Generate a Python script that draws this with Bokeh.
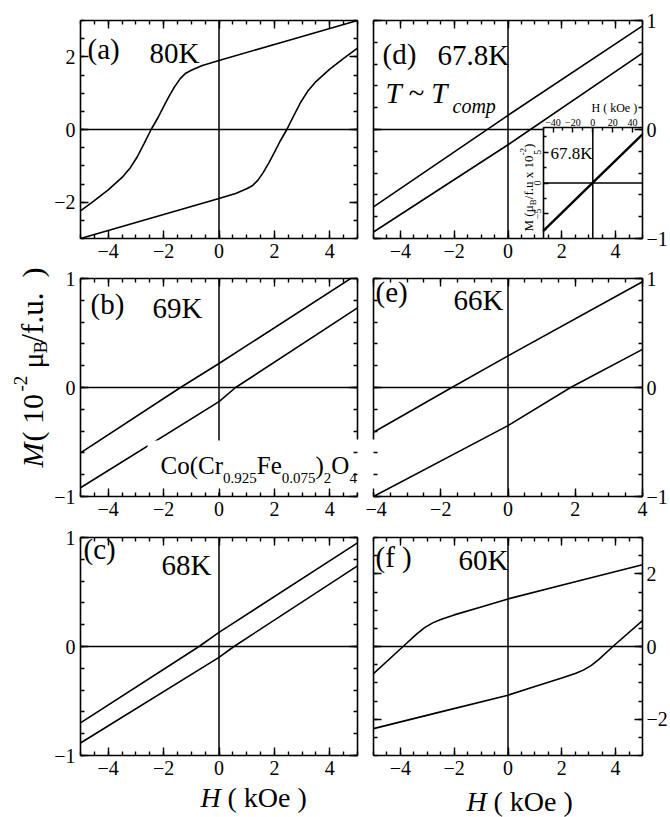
from math import pi, cos, sin

from bokeh.plotting import figure
from bokeh.models import Range1d, LinearAxis, FixedTicker, Span, Label
from bokeh.layouts import row, column
from bokeh.embed import file_html
from bokeh.resources import INLINE

SERIF = "Liberation Serif"
INK = "black"

# ---------- magnetisation loops: H in kOe, M in 1e-2 muB/f.u. ----------
# *_dn : branch swept from +H to -H,   *_up : branch swept from -H to +H

# (a) 80 K
h80_dn = [-5.0, -4.5, -4.0, -3.5, -3.2, -2.95, -2.7, -2.45, -2.2, -2.0, -1.8,
          -1.6, -1.4, -1.2, -1.0, -0.6, 0.0, 2.5, 5.0]
m80_dn = [-2.24, -1.96, -1.66, -1.32, -1.05, -0.75, -0.38, 0.0, 0.33, 0.63, 0.92,
          1.18, 1.40, 1.55, 1.63, 1.76, 1.90, 2.45, 3.0]
h80_up = [-5.0, -2.5, 0.0, 0.6, 1.0, 1.2, 1.4, 1.6, 1.8, 2.0, 2.2, 2.45, 2.7,
          2.95, 3.2, 3.5, 4.0, 4.5, 5.0]
m80_up = [-3.0, -2.45, -1.90, -1.76, -1.63, -1.55, -1.40, -1.18, -0.92, -0.63,
          -0.33, 0.0, 0.38, 0.75, 1.05, 1.32, 1.66, 1.96, 2.24]

# (b) 69 K
h69_dn = [-5.0, -1.39, 0.0, 5.0]
m69_dn = [-0.60, 0.0, 0.22, 1.04]
h69_up = [-5.0, 0.0, 0.6, 5.0]
m69_up = [-0.92, -0.13, 0.0, 0.73]

# (c) 68 K
h68_dn = [-5.0, -0.72, 0.0, 5.0]
m68_dn = [-0.70, 0.0, 0.13, 0.95]
h68_up = [-5.0, 0.0, 0.54, 5.0]
m68_up = [-0.885, -0.10, 0.0, 0.74]

# (d) 67.8 K
h678_dn = [-5.0, 0.0, 5.0]
m678_dn = [-0.71, 0.13, 0.95]
h678_up = [-5.0, 0.0, 5.0]
m678_up = [-0.94, -0.14, 0.70]
# (d) inset, wide sweep
h678_wide = [-50.0, 0.0, 50.0]
m678_wide = [-7.8, 0.05, 7.9]

# (e) 66 K
h66_dn = [-4.0, -1.67, 0.0, 4.0]
m66_dn = [-0.41, 0.0, 0.29, 0.97]
h66_up = [-4.0, 0.0, 1.86, 4.0]
m66_up = [-1.0, -0.35, 0.0, 0.35]

# (f) 60 K
h60_dn = [-5.0, -3.9, -3.4, -3.1, -2.8, -2.5, -2.0, -1.0, 0.0, 2.5, 5.0]
m60_dn = [-0.75, 0.0, 0.34, 0.52, 0.65, 0.74, 0.87, 1.09, 1.31, 1.78, 2.25]
h60_up = [-5.0, -2.5, 0.0, 1.0, 2.0, 2.5, 2.8, 3.1, 3.4, 3.9, 5.0]
m60_up = [-2.26, -1.80, -1.34, -1.10, -0.87, -0.74, -0.65, -0.52, -0.34, 0.0, 0.71]


# ---------- ticks ----------
def steps(lo, hi, d):
    n = int(round((hi - lo) / d))
    return [round(lo + i * d, 6) for i in range(n + 1)]


TICK_H = [-4, -2, 0, 2, 4]
MINOR_H5 = steps(-5, 5, 0.5)
MINOR_H4 = steps(-4, 4, 0.5)
TICK_M3 = [-2, 0, 2]
MINOR_M3 = steps(-3, 3, 0.5)
TICK_M1 = [-1, 0, 1]
MINOR_M1 = steps(-1, 1, 0.2)
TICK_IH = [-40, -20, 0, 20, 40]
MINOR_IH = [-50, -30, -10, 10, 30, 50]
TICK_IM = [-5, 0, 5]
MINOR_IM = [-7.5, -2.5, 2.5, 7.5]

# ---------- page geometry (px) ----------
PAGE_H = 817
TITLE_W = 50
COL_LEFT = [50, 365]
COL_W = [315, 305]
FRAME_LEFT = [80, 373]
FRAME_W = [277, 276]
ROW_TOP = [0, 267, 526]
ROW_H = [267, 259, 256]
FRAME_TOP = [20, 278, 537]
FRAME_H = 218
CAP_TOP = ROW_TOP[2] + ROW_H[2]          # strip under the bottom row
CAP_H = PAGE_H - CAP_TOP

# label anchors sit this many em above the drawn baseline
BASE_FIX = 0.36

# advance widths (em) of the serif face, used to chain text pieces
ADV = {"C": .667, "o": .5, "(": .333, ")": .333, "r": .333, "F": .556, "e": .444,
       "O": .722, ".": .25, " ": .25, "M": .889, "μ": .55, "/": .278, "f": .333,
       "u": .5, "k": .5, "H": .722, "B": .667, "-": .333, "T": .611, "~": .541,
       "c": .444, "m": .778, "p": .5, "K": .722, "x": .5}
ADV_I = {"M": .833, "T": .556, "m": .722}


def text_width(s, size, italic=False):
    tot = 0.0
    for ch in s:
        if italic and ch in ADV_I:
            tot += ADV_I[ch]
        else:
            tot += ADV.get(ch, 0.5)
    return tot * size


def put(p, org, x, y, s, size, italic=False, angle=0.0, align="left"):
    """Place text with its baseline at page position (x, y) inside plot p."""
    fl, fb = org
    x -= BASE_FIX * size * sin(angle)
    y -= BASE_FIX * size * cos(angle)
    p.add_layout(Label(x=x - fl, y=fb - y, x_units="screen", y_units="screen",
                       text=s, text_font=SERIF, text_font_size=f"{size}px",
                       text_font_style="italic" if italic else "normal",
                       text_color=INK, text_align=align,
                       text_baseline="alphabetic", angle=angle))


def run(p, org, x, y, pieces, angle=0.0):
    """Chain pieces (text, size, baseline shift, italic) along one line."""
    ca, sa = cos(angle), sin(angle)
    for s, size, shift, italic in pieces:
        put(p, org, x + shift * sa, y + shift * ca, s, size, italic, angle)
        adv = text_width(s, size, italic)
        x += adv * ca
        y -= adv * sa


def styled(ax, labelled, size=20, standoff=5, major=8, minor=4):
    ax.axis_line_color = INK
    ax.axis_line_width = 1.6
    ax.major_tick_line_color = INK
    ax.major_tick_line_width = 1.4
    ax.minor_tick_line_color = INK
    ax.minor_tick_line_width = 1.4
    ax.major_tick_in = major
    ax.major_tick_out = 0
    ax.minor_tick_in = minor
    ax.minor_tick_out = 0
    if labelled:
        ax.major_label_text_font = SERIF
        ax.major_label_text_font_size = f"{size}px"
        ax.major_label_text_color = INK
        ax.major_label_standoff = standoff
    else:
        ax.major_label_text_font_size = "1px"
        ax.major_label_text_color = None
        ax.major_label_standoff = 0
    return ax


def bare(width, height):
    """Plot with no axes whose frame fills the whole canvas (for free text)."""
    return figure(width=width, height=height, x_range=Range1d(0, 1), y_range=Range1d(0, 1),
                  x_axis_type=None, y_axis_type=None, toolbar_location=None,
                  output_backend="svg", min_border=0, outline_line_color=None)


def panel(r, c, xr, yr, xt, xm, yt, ym):
    lb = FRAME_LEFT[c] - COL_LEFT[c]
    rb = COL_W[c] - lb - FRAME_W[c]
    tb = FRAME_TOP[r] - ROW_TOP[r]
    bb = ROW_H[r] - tb - FRAME_H
    p = figure(width=COL_W[c], height=ROW_H[r],
               x_range=Range1d(*xr), y_range=Range1d(*yr),
               x_axis_type=None, y_axis_type=None,
               toolbar_location=None, output_backend="svg",
               min_border_left=lb, min_border_right=rb,
               min_border_top=tb, min_border_bottom=bb,
               outline_line_color=None,
               background_fill_color="white", border_fill_color="white")
    p.add_layout(styled(LinearAxis(ticker=FixedTicker(ticks=xt, minor_ticks=xm)), True), "below")
    p.add_layout(styled(LinearAxis(ticker=FixedTicker(ticks=xt, minor_ticks=xm)), False), "above")
    left = styled(LinearAxis(ticker=FixedTicker(ticks=yt, minor_ticks=ym)), c == 0)
    right = styled(LinearAxis(ticker=FixedTicker(ticks=yt, minor_ticks=ym)), c == 1, standoff=4)
    p.add_layout(left, "left")
    p.add_layout(right, "right")
    for dim in ("width", "height"):
        p.add_layout(Span(location=0, dimension=dim, line_color=INK,
                          line_width=1.5, level="underlay"))
    org = (FRAME_LEFT[c], FRAME_TOP[r] + FRAME_H)
    return p, org, left, right


def loop(p, h, m):
    p.line(h, m, line_color=INK, line_width=1.6)


def edge_piece(p, side, loc, lo, hi):
    """Short stretch of frame edge, used where a label plate interrupts an axis."""
    ax = styled(LinearAxis(ticker=FixedTicker(ticks=[], minor_ticks=[]),
                           fixed_location=loc, bounds=(lo, hi)), False, major=0, minor=0)
    p.add_layout(ax, side)


# ---------- (a) 80 K ----------
pa, oa, _, _ = panel(0, 0, (-5, 5), (-3, 3), TICK_H, MINOR_H5, TICK_M3, MINOR_M3)
loop(pa, h80_dn, m80_dn)
loop(pa, h80_up, m80_up)
put(pa, oa, 87, 59, "(a)", 29)
put(pa, oa, 149, 63, "80K", 29)

# ---------- (b) 69 K ----------
pb, ob, _, b_right = panel(1, 0, (-5, 5), (-1, 1), TICK_H, MINOR_H5, TICK_M1, MINOR_M1)
loop(pb, h69_dn, m69_dn)
loop(pb, h69_up, m69_up)
# white plate behind the compound formula
pb.quad(left=[-2.58], right=[5.6], bottom=[-0.963], top=[-0.486],
        fill_color="white", line_color=None)
b_right.bounds = (-0.48, 1)
edge_piece(pb, "right", 5, -1, -0.963)
put(pb, ob, 90, 314, "(b)", 29)
put(pb, ob, 152, 318, "69K", 29)
run(pb, ob, 160, 474, [("Co(Cr", 25, 0, False), ("0.925", 15, 9, False),
                       ("Fe", 25, 0, False), ("0.075", 15, 9, False),
                       (")", 25, 0, False), ("2", 15, 9, False),
                       ("O", 25, 0, False), ("4", 15, 9, False)])

# ---------- (c) 68 K ----------
pc, oc, _, _ = panel(2, 0, (-5, 5), (-1, 1), TICK_H, MINOR_H5, TICK_M1, MINOR_M1)
loop(pc, h68_dn, m68_dn)
loop(pc, h68_up, m68_up)
put(pc, oc, 83, 559, "(c)", 29)
put(pc, oc, 161, 575, "68K", 29)

# ---------- (d) 67.8 K with wide-field inset ----------
pd, od, _, _ = panel(0, 1, (-5, 5), (-1, 1), TICK_H, MINOR_H5, TICK_M1, MINOR_M1)
loop(pd, h678_dn, m678_dn)
loop(pd, h678_up, m678_up)

IN_L, IN_T = 547, 127          # inset box corner on the page (right/bottom = frame edges)
fr_l = FRAME_LEFT[1]
fr_r = FRAME_LEFT[1] + FRAME_W[1]
fr_t = FRAME_TOP[0]
fr_b = FRAME_TOP[0] + FRAME_H
ux = 100.0 / (fr_r - IN_L)
uy = 18.0 / (fr_b - IN_T)
pd.extra_x_ranges = {"ix": Range1d(-50 - (IN_L - fr_l) * ux, 50)}
pd.extra_y_ranges = {"iy": Range1d(-9, 9 + (IN_T - fr_t) * uy)}
pd.quad(left=[-50], right=[50], bottom=[-9], top=[9], x_range_name="ix", y_range_name="iy",
        fill_color="white", line_color=None)
pd.segment(x0=[-50, 0], y0=[0, -9], x1=[50, 0], y1=[0, 9], x_range_name="ix",
           y_range_name="iy", line_color=INK, line_width=1.5)
pd.line(h678_wide, m678_wide, x_range_name="ix", y_range_name="iy",
        line_color=INK, line_width=2.4)
in_left = styled(LinearAxis(x_range_name="ix", y_range_name="iy", fixed_location=-50,
                            bounds=(-9, 9),
                            ticker=FixedTicker(ticks=TICK_IM, minor_ticks=MINOR_IM)),
                 True, size=10, standoff=2, major=5, minor=3)
in_left.major_label_orientation = "vertical"
pd.add_layout(in_left, "left")
in_top = styled(LinearAxis(x_range_name="ix", y_range_name="iy", fixed_location=9,
                           bounds=(-50, 50),
                           ticker=FixedTicker(ticks=TICK_IH, minor_ticks=MINOR_IH)),
                True, size=10, standoff=2, major=5, minor=3)
pd.add_layout(in_top, "above")
put(pd, od, 591, 112, "H ( kOe )", 12)
put(pd, od, 550, 159, "67.8K", 17)
run(pd, od, 533, 231, [("M (", 13, 0, False), ("μ", 13, 0, False), ("B", 9, 3, False),
                       ("/f.u x 10", 13, 0, False), ("-2", 9, -7, False),
                       (" )", 13, 0, False)], angle=pi / 2)
put(pd, od, 382, 64, "(d)", 29)
put(pd, od, 437, 65, "67.8K", 29)
put(pd, od, 385, 103, "T ~ T", 29, italic=True)
put(pd, od, 452, 113, "comp", 20, italic=True)

# ---------- (e) 66 K ----------
pe, oe, e_left, _ = panel(1, 1, (-4, 4), (-1, 1), TICK_H, MINOR_H4, TICK_M1, MINOR_M1)
loop(pe, h66_dn, m66_dn)
loop(pe, h66_up, m66_up)
e_left.bounds = (-0.48, 1)
edge_piece(pe, "left", -4, -1, -0.963)
put(pe, oe, 375, 302, "(e)", 29)
put(pe, oe, 453, 310, "66K", 29)

# ---------- (f) 60 K ----------
pf, of, _, _ = panel(2, 1, (-5, 5), (-3, 3), TICK_H, MINOR_H5, TICK_M3, MINOR_M3)
loop(pf, h60_dn, m60_dn)
loop(pf, h60_up, m60_up)
put(pf, of, 375, 567, "(f )", 29)
put(pf, of, 458, 570, "60K", 29)

# ---------- field-axis titles under the bottom row ----------
cap_l = bare(COL_W[0], CAP_H)
put(cap_l, (COL_LEFT[0], PAGE_H), 170, 807, "H", 28, italic=True)
put(cap_l, (COL_LEFT[0], PAGE_H), 197, 807, "( kOe )", 28)
cap_r = bare(COL_W[1], CAP_H)
put(cap_r, (COL_LEFT[1], PAGE_H), 458, 811, "H", 28, italic=True)
put(cap_r, (COL_LEFT[1], PAGE_H), 485, 811, "( kOe )", 28)

# ---------- shared vertical title (reads bottom to top) ----------
pt = bare(TITLE_W, PAGE_H)
ORG_T = (0, PAGE_H)
TX = 43                                    # baseline column of the title
put(pt, ORG_T, TX, 467, "M", 30, italic=True, angle=pi / 2)
put(pt, ORG_T, TX, 441, "( 10", 30, angle=pi / 2)
put(pt, ORG_T, TX - 16, 391, "-2", 19, angle=pi / 2)
put(pt, ORG_T, TX, 368, "μ", 30, angle=pi / 2)
put(pt, ORG_T, TX + 4, 353, "B", 19, angle=pi / 2)
put(pt, ORG_T, TX, 342, "/f.u.", 31, angle=pi / 2)
put(pt, ORG_T, TX, 277, ")", 30, angle=pi / 2)

layout = row(pt, column(pa, pb, pc, cap_l), column(pd, pe, pf, cap_r))
open("out.html", "w").write(file_html(layout, INLINE, title="M-H loops"))
